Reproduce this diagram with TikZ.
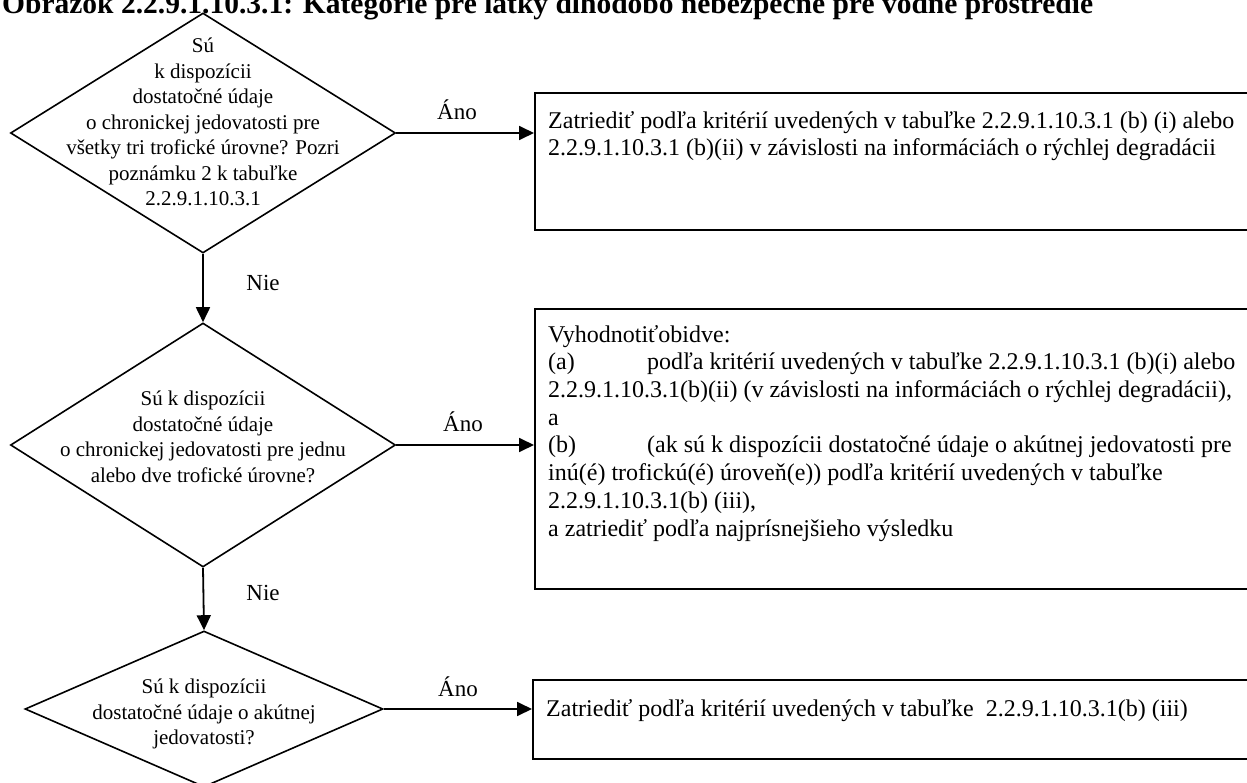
\documentclass[tikz,border=0pt]{standalone}
\usepackage{fontspec}
\setmainfont{Liberation Serif}
\usetikzlibrary{shapes.geometric,arrows.meta}
\begin{document}
\begin{tikzpicture}[x=1pt,y=-1pt,
  dec/.style={diamond, draw, line width=1.6pt, inner sep=0pt},
  dtext/.style={align=center, font=\fontsize{21}{25.5}\selectfont, inner sep=0pt},
  box/.style={draw, line width=2.4pt, rectangle, inner sep=0pt, anchor=north west},
  btext/.style={align=left, font=\fontsize{24}{27.7}\selectfont, inner sep=0pt, anchor=north west},
  lbl/.style={font=\fontsize{23}{27}\selectfont, inner sep=0pt},
  arr/.style={line width=1.8pt, -{Triangle[length=15pt,width=14pt]}}]

\fill[white] (0,0) rectangle (1247,783);
\useasboundingbox (0,0) rectangle (1247,783);

\node[anchor=base west, font=\fontsize{29.5}{34}\selectfont\bfseries, inner sep=0pt] (title) at (2,14)
  {Obrázok 2.2.9.1.10.3.1: Kategórie pre látky dlhodobo nebezpečné pre vodné prostredie};

% decisions
\node[dec, minimum width=385pt, minimum height=240pt] (d1) at (203,133) {};
\node[dec, minimum width=385pt, minimum height=244pt] (d2) at (203,445) {};
\node[dec, minimum width=358pt, minimum height=156pt] (d3) at (204,709) {};

\node[dtext] (t1) at (203,122) {Sú\\k dispozícii\\dostatočné údaje\\o chronickej jedovatosti pre\\všetky tri trofické úrovne? Pozri\\poznámku 2 k tabuľke\\2.2.9.1.10.3.1};
\node[dtext] (t2) at (203,437) {Sú k dispozícii\\dostatočné údaje\\o chronickej jedovatosti pre jednu\\alebo dve trofické úrovne?};
\node[dtext] (t3) at (204,714) {Sú k dispozícii\\dostatočné údaje o akútnej\\jedovatosti?};

% result boxes
\node[box, minimum width=731pt, minimum height=137pt] (b1) at (534,92) {};
\node[box, minimum width=731pt, minimum height=280pt] (b2) at (534,308) {};
\node[box, minimum width=733pt, minimum height=79pt] (b3) at (532,679) {};

\node[btext] (x1) at (548,111) {Zatriediť podľa kritérií uvedených v tabuľke 2.2.9.1.10.3.1 (b) (i) alebo\\2.2.9.1.10.3.1 (b)(ii) v závislosti na informáciách o rýchlej degradácii};
\node[btext] (x2) at (548,325) {Vyhodnotiťobidve:\\\makebox[99pt][l]{(a)}podľa kritérií uvedených v tabuľke 2.2.9.1.10.3.1 (b)(i) alebo\\2.2.9.1.10.3.1(b)(ii) (v závislosti na informáciách o rýchlej degradácii),\\a\\\makebox[99pt][l]{(b)}(ak sú k dispozícii dostatočné údaje o akútnej jedovatosti pre\\inú(é) trofickú(é) úroveň(e)) podľa kritérií uvedených v tabuľke\\2.2.9.1.10.3.1(b) (iii),\\a zatriediť podľa najprísnejšieho výsledku};
\node[btext] (x3) at (546,699) {Zatriediť podľa kritérií uvedených v tabuľke\ \ 2.2.9.1.10.3.1(b) (iii)};

% labels
\node[lbl] (n1) at (263,283) {Nie};
\node[lbl] (n2) at (263,593) {Nie};
\node[lbl] (a1) at (457,110) {Áno};
\node[lbl] (a2) at (463,422) {Áno};
\node[lbl] (a3) at (458,687) {Áno};

% connectors
\draw[arr] (d1.south) -- (d2.north);
\draw[arr] (d2.south) -- (d3.north);
\draw[arr] (d1.east) -- (d1.east -| b1.west);
\draw[arr] (d2.east) -- (d2.east -| b2.west);
\draw[arr] (d3.east) -- (d3.east -| b3.west);
\end{tikzpicture}
\end{document}
